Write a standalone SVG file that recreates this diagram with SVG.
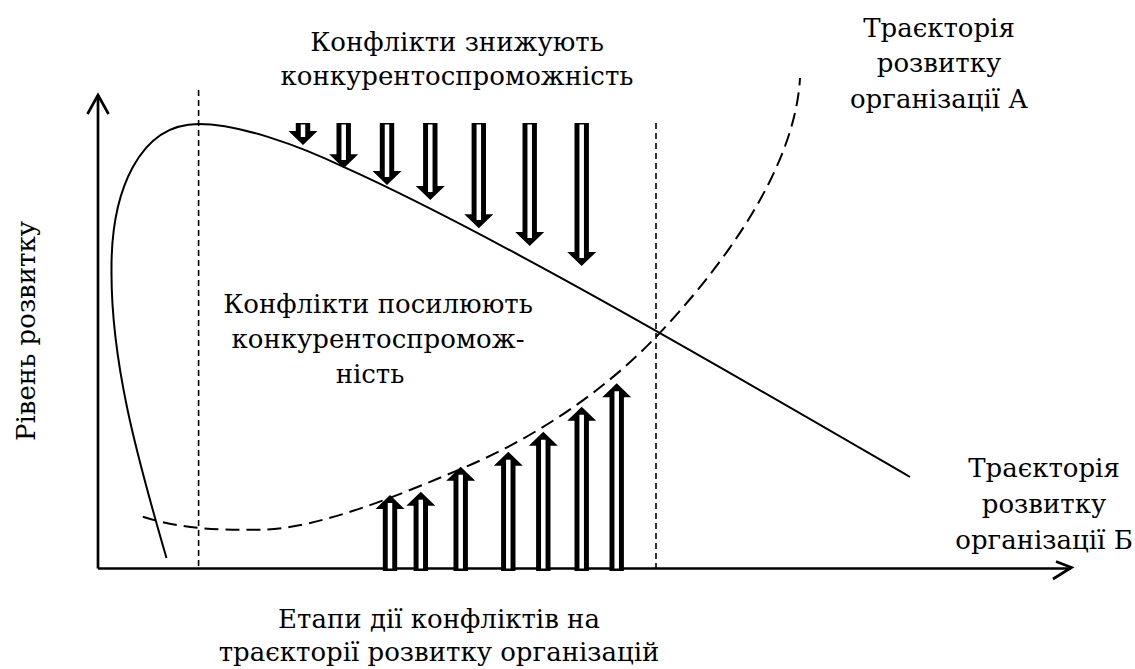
<svg xmlns="http://www.w3.org/2000/svg" width="1135" height="669" viewBox="0 0 1135 669">
<style>
.t{font-family:"DejaVu Serif","Liberation Serif",serif;font-size:26px;fill:#000;text-anchor:middle}
.axis{stroke:#000;stroke-width:2.7;fill:none}
.solid{stroke:#000;stroke-width:2;fill:none}
.dashB{stroke:#000;stroke-width:2;fill:none;stroke-dasharray:14 7}
.vdash{stroke:#000;stroke-width:1.6;fill:none;stroke-dasharray:6 4}
.ar{fill:#000}
.in{stroke:#fff;stroke-width:4.5;fill:none}
</style>
<rect width="1135" height="669" fill="#fff"/>
<g id="axes">
<line class="axis" x1="98" y1="568.5" x2="98" y2="95"/>
<polyline class="axis" points="87.5,114 98,95 108.5,114"/>
<line class="axis" x1="98" y1="568.5" x2="1071" y2="568.5"/>
<polyline class="axis" points="1053,579 1071.5,567.5 1056,561.5"/>
</g>
<g id="stage-lines">
<line class="vdash" x1="198.6" y1="90" x2="198.6" y2="568"/>
<line class="vdash" x1="656" y1="123" x2="656" y2="568"/>
</g>
<g id="trajectory-a">
<path class="solid" d="M166.5,558 C135,450 111,360 111.5,270 C111,190 140,124 198.5,124 C240,124 300,146 343,166.7 C493,234 730,372.6 910,477"/>
</g>
<g id="trajectory-b">
<path class="dashB" d="M142.8,516.8 C175,527 210,531 263,529.6 C320,528 400,495 463,468 C530,440 600,395 655,338 C720,270 795,170 800,78"/>
</g>
<g id="down-arrows">
<path class="ar" d="M295.8,123 H310.2 V131 H317.5 L303,145 L288.5,131 H295.8 Z"/><line class="in" x1="303" y1="124.5" x2="303" y2="137"/>
<path class="ar" d="M336.5,123 H350.9 V154.3 H358.2 L343.7,168.3 L329.2,154.3 H336.5 Z"/><line class="in" x1="343.7" y1="124.5" x2="343.7" y2="160"/>
<path class="ar" d="M379.8,123 H394.2 V171 H401.5 L387,185 L372.5,171 H379.8 Z"/><line class="in" x1="387" y1="124.5" x2="387" y2="177"/>
<path class="ar" d="M423.1,123 H437.5 V186 H444.8 L430.3,200 L415.8,186 H423.1 Z"/><line class="in" x1="430.3" y1="124.5" x2="430.3" y2="192"/>
<path class="ar" d="M471.6,123 H486 V214.3 H493.3 L478.8,228.3 L464.3,214.3 H471.6 Z"/><line class="in" x1="478.8" y1="124.5" x2="478.8" y2="220"/>
<path class="ar" d="M522.5,123 H536.9 V232 H544.2 L529.7,246 L515.2,232 H522.5 Z"/><line class="in" x1="529.7" y1="124.5" x2="529.7" y2="238"/>
<path class="ar" d="M574.5,123 H588.9 V252 H596.2 L581.7,266 L567.2,252 H574.5 Z"/><line class="in" x1="581.7" y1="124.5" x2="581.7" y2="258"/>
</g>
<g id="up-arrows">
<path class="ar" d="M382.8,571 H397.2 V509 H404.5 L390,495 L375.5,509 H382.8 Z"/><line class="in" x1="390" y1="568.5" x2="390" y2="503"/>
<path class="ar" d="M413.6,571 H428 V505.7 H435.3 L420.8,491.7 L406.3,505.7 H413.6 Z"/><line class="in" x1="420.8" y1="568.5" x2="420.8" y2="499.7"/>
<path class="ar" d="M453.5,571 H467.9 V480.7 H475.2 L460.7,466.7 L446.2,480.7 H453.5 Z"/><line class="in" x1="460.7" y1="568.5" x2="460.7" y2="474.7"/>
<path class="ar" d="M501.1,571 H515.5 V465.7 H522.8 L508.3,451.7 L493.8,465.7 H501.1 Z"/><line class="in" x1="508.3" y1="568.5" x2="508.3" y2="459.7"/>
<path class="ar" d="M536.1,571 H550.5 V445.7 H557.8 L543.3,431.7 L528.8,445.7 H536.1 Z"/><line class="in" x1="543.3" y1="568.5" x2="543.3" y2="439.7"/>
<path class="ar" d="M574.5,571 H588.9 V420.7 H596.2 L581.7,406.7 L567.2,420.7 H574.5 Z"/><line class="in" x1="581.7" y1="568.5" x2="581.7" y2="414.7"/>
<path class="ar" d="M609.5,571 H623.9 V397.3 H631.2 L616.7,383.3 L602.2,397.3 H609.5 Z"/><line class="in" x1="616.7" y1="568.5" x2="616.7" y2="391.3"/>
</g>
<g id="label-reduce" class="t">
<text x="457" y="50.7">Конфлікти знижують</text>
<text x="457" y="85">конкурентоспроможність</text>
</g>
<g id="label-a" class="t">
<text x="939" y="36.7">Траєкторія</text>
<text x="939" y="72">розвитку</text>
<text x="939" y="108.3">організації А</text>
</g>
<g id="label-b" class="t">
<text x="1044" y="477">Траєкторія</text>
<text x="1044" y="513">розвитку</text>
<text x="1044" y="549">організації Б</text>
</g>
<g id="label-enhance" class="t">
<text x="378" y="313">Конфлікти посилюють</text>
<text x="378" y="348">конкурентоспромож-</text>
<text x="370" y="383">ність</text>
</g>
<g id="label-x" class="t">
<text x="439" y="627.5">Етапи дії конфліктів на</text>
<text x="439" y="660.5">траєкторії розвитку організацій</text>
</g>
<g id="label-y" class="t">
<text transform="translate(35,331) rotate(-90)">Рівень розвитку</text>
</g>
</svg>
